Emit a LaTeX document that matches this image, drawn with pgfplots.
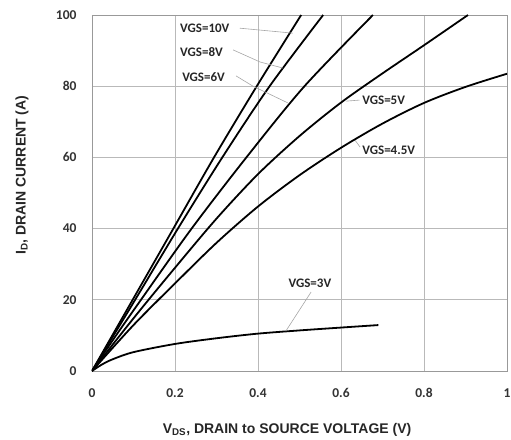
\documentclass[border=0pt]{standalone}
\usepackage{fontspec}
\setmainfont{Carlito}
\newfontfamily\arialfont{Liberation Sans}
\usepackage{pgfplots}
\pgfplotsset{compat=1.18}
\begin{document}
\begin{tikzpicture}
\useasboundingbox (-92pt,-68pt) rectangle (419pt,371pt);
\begin{axis}[
  at={(0,0)}, anchor=south west,
  scale only axis, width=415pt, height=356pt,
  xmin=0, xmax=1, ymin=0, ymax=100,
  xtick={0,0.2,0.4,0.6,0.8,1}, ytick={0,20,40,60,80,100},
  xticklabels={0,0.2,0.4,0.6,0.8,1},
  major tick length=0pt,
  grid=major,
  grid style={gray!55, line width=0.9pt},
  axis line style={gray!80, line width=0.9pt},
  /pgf/number format/assume math mode=true,
  tick label style={font=\bfseries\fontsize{13.5}{13.5}\selectfont, text=black!80},
  xticklabel style={yshift=-14pt},
  yticklabel style={xshift=-12pt},
  xlabel={\arialfont\bfseries V\textsubscript{DS}, DRAIN to SOURCE VOLTAGE (V)},
  ylabel={\arialfont\bfseries I\textsubscript{D}, DRAIN CURRENT (A)},
  label style={font=\fontsize{14}{14}\selectfont, text=black!85},
  xlabel style={at={(axis description cs:0.47,0)}, anchor=north, yshift=-49pt},
  ylabel style={at={(axis description cs:0,0.55)}, anchor=south, yshift=60pt},
  clip=true,
]
% VGS=10V
\addplot[black, no marks, line width=1.8pt, smooth] coordinates {(0,0)(0.049,10)(0.098,20)(0.196,40)(0.294,60)(0.397,80)(0.504,100)};
% VGS=8V
\addplot[black, no marks, line width=1.8pt, smooth] coordinates {(0,0)(0.052,10)(0.104,20)(0.207,40)(0.314,60)(0.428,80)(0.557,100)};
% VGS=6V
\addplot[black, no marks, line width=1.8pt, smooth] coordinates {(0,0)(0.058,10)(0.118,20)(0.24,40)(0.372,60)(0.512,80)(0.677,100)};
% VGS=5V
\addplot[black, no marks, line width=1.8pt, smooth] coordinates {(0,0)(0.1,14.8)(0.2,29)(0.3,42.8)(0.4,55.3)(0.5,66)(0.6,75.4)(0.7,83.6)(0.8,91.5)(0.906,100)};
% VGS=4.5V
\addplot[black, no marks, line width=1.8pt, smooth] coordinates {(0,0)(0.1,12.9)(0.2,24.6)(0.3,36)(0.4,46.2)(0.5,55)(0.6,62.7)(0.7,69.5)(0.8,75.3)(0.9,79.8)(1,83.5)};
% VGS=3V
\addplot[black, no marks, line width=1.8pt, smooth] coordinates {(0,0)(0.025,1.9)(0.05,3.3)(0.1,5.3)(0.2,7.6)(0.3,9.2)(0.4,10.5)(0.5,11.4)(0.6,12.2)(0.69,12.9)};

\begin{scope}[every node/.style={font=\bfseries\fontsize{13}{13}\selectfont, text=black!85, inner sep=0pt}]
\draw[gray!70, line width=0.6pt] (axis cs:0.356,96.3) -- (axis cs:0.484,94.9);
\node[anchor=west] at (axis cs:0.212,96.3) {VGS=10V};
\draw[gray!70, line width=0.6pt] (axis cs:0.34,90.2) -- (axis cs:0.405,86.8) -- (axis cs:0.46,85.1);
\node[anchor=west] at (axis cs:0.212,89.6) {VGS=8V};
\draw[gray!70, line width=0.6pt] (axis cs:0.347,82.9) -- (axis cs:0.388,80) -- (axis cs:0.472,75.3);
\node[anchor=west] at (axis cs:0.217,82.6) {VGS=6V};
\draw[gray!70, line width=0.6pt] (axis cs:0.612,75.8) -- (axis cs:0.645,76.1);
\node[anchor=west] at (axis cs:0.651,76.1) {VGS=5V};
\draw[gray!70, line width=0.6pt] (axis cs:0.634,64.8) -- (axis cs:0.646,62.9);
\node[anchor=west] at (axis cs:0.651,62.1) {VGS=4.5V};
\draw[gray!70, line width=0.6pt] (axis cs:0.528,22.2) -- (axis cs:0.467,11.2);
\node at (axis cs:0.525,24.7) {VGS=3V};
\end{scope}
\end{axis}
\end{tikzpicture}
\end{document}
